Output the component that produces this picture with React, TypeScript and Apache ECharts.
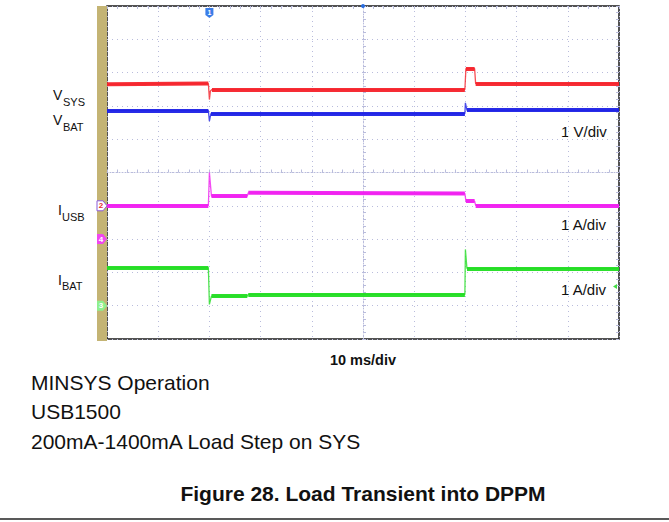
import React, { useEffect, useRef } from "react";
import * as echarts from "echarts";

// time in ms relative to trigger (10 ms/div), level in divisions relative to screen centre
const vsysTime = [-50, -30.2, -30, -29.8, -29.5, 19.9, 20.1, 21.8, 22.0, 50];
const vsysLevel = [2.65, 2.67, 2.19, 2.45, 2.49, 2.49, 3.12, 3.12, 2.67, 2.67];

const vbatTime = [-50, -30.2, -30, -29.7, 19.9, 20.0, 20.3, 50];
const vbatLevel = [1.86, 1.86, 1.54, 1.77, 1.77, 2.09, 1.87, 1.87];

const iusbTime = [-50, -30.2, -30, -29.6, -22.6, -22.4, 19.9, 20.1, 21.8, 22.0, 50];
const iusbLevel = [-0.99, -0.99, 0.0, -0.71, -0.71, -0.61, -0.63, -0.86, -0.86, -0.99, -0.99];

const ibatTime = [-50, -30.2, -30, -29.6, -22.6, -22.4, 19.9, 20.0, 20.3, 50];
const ibatLevel = [-2.86, -2.86, -3.96, -3.71, -3.71, -3.66, -3.66, -2.31, -2.88, -2.88];

const channelNames = ["VSYS", "VBAT", "IUSB", "IBAT"];
const channelColors = ["#f5232b", "#1e22e6", "#f01ef0", "#22dd22"];
const scaleLabels = ["1 V/div", "1 A/div", "1 A/div"];
const timeLabel = "10 ms/div";
const captionLines = ["MINSYS Operation", "USB1500", "200mA-1400mA Load Step on SYS"];
const figureTitle = "Figure 28. Load Transient into DPPM";

const FONT = '"Liberation Sans", Arial, sans-serif';

function pairs(t: number[], v: number[]) {
  return t.map((x, i) => [x, v[i]]);
}

// settled (flat) stretches of a trace: drawn thick like a noisy scope trace
function plateaus(t: number[], v: number[]) {
  const out: any[] = [];
  for (let i = 0; i + 1 < t.length; i++) {
    if (t[i + 1] - t[i] >= 1 && Math.abs(v[i + 1] - v[i]) < 0.1) {
      out.push({ coords: [[t[i], v[i]], [t[i + 1], v[i + 1]]] });
    }
  }
  return out;
}

const flagRight = "path://M0,0 H6 L10,5 L6,10 H0 Z";
const flagDown = "path://M0,0 H8 V7 L4,10 L0,7 Z";

function txt(text: string, x: number, y: number, size: number, opts: any = {}) {
  return {
    type: "text",
    x,
    y,
    silent: true,
    style: {
      text,
      fontSize: size,
      fontFamily: FONT,
      fontWeight: opts.bold ? "bold" : "normal",
      fill: opts.color || "#111",
      align: opts.align || "left",
      textAlign: opts.align || "left",
      verticalAlign: "middle",
      textVerticalAlign: "middle",
    },
  };
}

export default function App() {
  const ref = useRef<HTMLDivElement>(null);
  useEffect(() => {
    if (!ref.current) return;
    const chart = echarts.init(ref.current, undefined, { renderer: "svg" });
    const grid = "#b9bcdc";
    const times = [vsysTime, vbatTime, iusbTime, ibatTime];
    const levels = [vsysLevel, vbatLevel, iusbLevel, ibatLevel];
    const markers: any[][] = [
      [],
      [
        {
          coord: [-30, 5],
          symbol: flagDown,
          symbolSize: [8, 10],
          symbolOffset: [0, 7],
          itemStyle: { color: "#3a7de8" },
          label: { show: true, formatter: "1", color: "#fff", fontSize: 7, fontWeight: "bold", offset: [0, -1] },
        },
        {
          coord: [0, 5],
          symbol: "circle",
          symbolSize: 4,
          itemStyle: { color: "#2a6ee0" },
          label: { show: false },
        },
      ],
      [
        {
          coord: [-50, -1],
          symbol: flagRight,
          symbolSize: [10, 10],
          symbolOffset: [-5, 0],
          itemStyle: { color: "#fff", borderColor: "#8a5ad8", borderWidth: 1 },
          label: { show: true, formatter: "2", color: "#e82a2a", fontSize: 8, fontWeight: "bold", offset: [-1, 0] },
        },
        {
          coord: [-50, -2],
          symbol: flagRight,
          symbolSize: [10, 10],
          symbolOffset: [-5, 0],
          itemStyle: { color: "#f046f0" },
          label: { show: true, formatter: "4", color: "#fff", fontSize: 8, fontWeight: "bold", offset: [-1, 0] },
        },
      ],
      [
        {
          coord: [-50, -4],
          symbol: flagRight,
          symbolSize: [10, 10],
          symbolOffset: [-5, 0],
          itemStyle: { color: "#8ef08e" },
          label: { show: true, formatter: "3", color: "#fff", fontSize: 8, fontWeight: "bold", offset: [-1, 0] },
        },
        {
          coord: [50, -3.42],
          symbol: "triangle",
          symbolRotate: 90,
          symbolSize: [5, 4],
          symbolOffset: [-4, 0],
          itemStyle: { color: "#44dd44" },
          label: { show: false },
        },
      ],
    ];
    const axisCommon = {
      type: "value",
      axisLabel: { show: false },
      splitLine: { show: true, lineStyle: { color: grid, type: [1, 4], width: 1 } },
    };
    const thinSeries = channelNames.map((name, i) => ({
      name,
      type: "line",
      xAxisIndex: 0,
      yAxisIndex: 0,
      data: pairs(times[i], levels[i]),
      showSymbol: false,
      symbol: "none",
      lineStyle: { color: channelColors[i], width: 1.3, opacity: 0.8 },
      z: 3,
      markPoint: markers[i].length
        ? { silent: true, data: markers[i], label: { fontFamily: FONT } }
        : undefined,
    }));
    const thickSeries = channelNames.map((name, i) => ({
      name: name + " trace",
      type: "lines",
      coordinateSystem: "cartesian2d",
      xAxisIndex: 0,
      yAxisIndex: 0,
      data: plateaus(times[i], levels[i]),
      silent: true,
      lineStyle: { color: channelColors[i], width: 4, opacity: 0.95, cap: "butt" },
      z: 4,
    }));
    chart.setOption({
      animation: false,
      backgroundColor: "#fff",
      grid: {
        left: 107,
        top: 6,
        width: 512,
        height: 333,
        show: true,
        borderColor: "#1a1a1a",
        borderWidth: 1.5,
        backgroundColor: "#fff",
      },
      xAxis: [
        {
          ...axisCommon,
          min: -50,
          max: 50,
          interval: 10,
          axisLine: { show: true, onZero: true, lineStyle: { color: grid, type: [1, 2] } },
          axisTick: { show: true, inside: true, length: 3, lineStyle: { color: grid } },
          minorTick: { show: true, splitNumber: 5, length: 3, lineStyle: { color: grid } },
        },
        {
          type: "value",
          position: "top",
          min: -50,
          max: 50,
          interval: 10,
          axisLabel: { show: false },
          splitLine: { show: false },
          axisLine: { show: false, onZero: false },
          axisTick: { show: true, inside: true, length: 3, lineStyle: { color: grid } },
          minorTick: { show: true, splitNumber: 5, length: 3, lineStyle: { color: grid } },
        },
      ],
      yAxis: [
        {
          ...axisCommon,
          min: -5,
          max: 5,
          interval: 1,
          axisLine: { show: true, onZero: true, lineStyle: { color: grid, type: [1, 2] } },
          axisTick: { show: true, inside: true, length: 3, lineStyle: { color: grid } },
          minorTick: { show: true, splitNumber: 5, length: 3, lineStyle: { color: grid } },
        },
        {
          type: "value",
          position: "right",
          min: -5,
          max: 5,
          interval: 1,
          axisLabel: { show: false },
          splitLine: { show: false },
          axisLine: { show: false, onZero: false },
          axisTick: { show: true, inside: true, length: 3, lineStyle: { color: grid } },
          minorTick: { show: true, splitNumber: 5, length: 3, lineStyle: { color: grid } },
        },
      ],
      series: [...thinSeries, ...thickSeries],
      graphic: [
        { type: "rect", shape: { x: 97, y: 6, width: 10, height: 335 }, style: { fill: "#c4b474" }, z: 0, silent: true },
        txt("V", 53, 95, 14),
        txt("SYS", 63, 101.5, 11),
        txt("V", 53, 120, 14),
        txt("BAT", 63, 127, 11),
        txt("I", 58, 210, 14),
        txt("USB", 62, 216.5, 11),
        txt("I", 58, 279.5, 14),
        txt("BAT", 62, 286, 11),
        txt(scaleLabels[0], 561, 131, 15),
        txt(scaleLabels[1], 561, 224, 15),
        txt(scaleLabels[2], 561, 289, 15),
        txt(timeLabel, 363, 360, 14.5, { bold: true, align: "center" }),
        txt(captionLines[0], 31, 382, 21),
        txt(captionLines[1], 31, 411, 21),
        txt(captionLines[2], 31, 441, 21),
        txt(figureTitle, 363, 493, 21, { bold: true, align: "center" }),
        { type: "line", shape: { x1: 0, y1: 519, x2: 669, y2: 519 }, style: { stroke: "#222", lineWidth: 1.5 }, silent: true },
      ],
    });
    return () => chart.dispose();
  }, []);
  return (
    <div
      ref={ref}
      style={{ position: "fixed", left: 0, top: 0, width: 669, height: 522, background: "#fff" }}
    />
  );
}
